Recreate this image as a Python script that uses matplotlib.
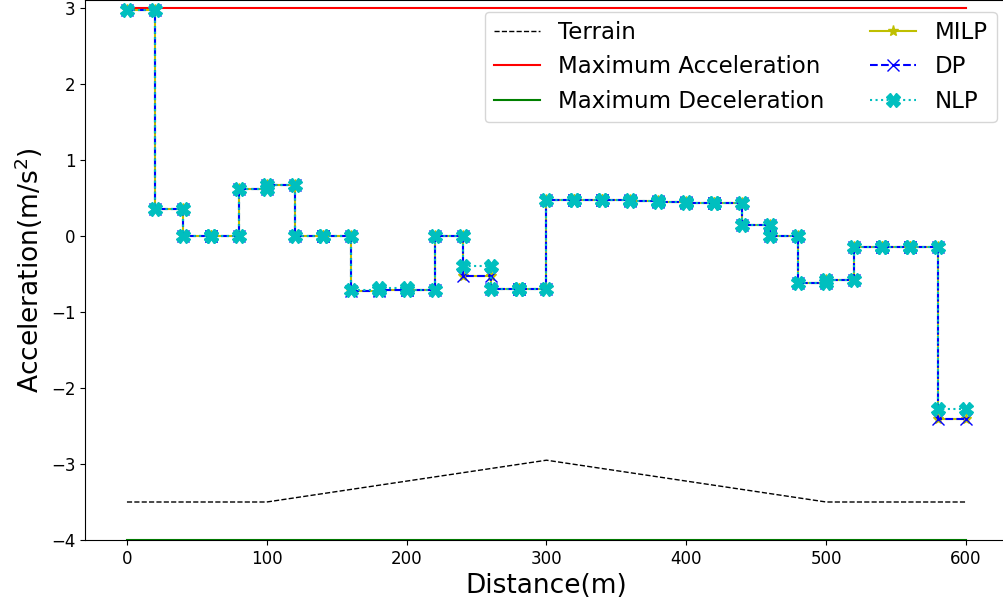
import matplotlib
matplotlib.use("Agg")
import matplotlib.pyplot as plt
import numpy as np

# segment boundaries (m) and piecewise-constant acceleration per 20 m segment
distance = np.arange(0, 620, 20)
milp_acc = [2.97, 0.36, 0.0, 0.0, 0.62, 0.67, 0.0, 0.0, -0.72, -0.71,
            -0.71, 0.0, -0.53, -0.70, -0.70, 0.48, 0.48, 0.47, 0.46, 0.45,
            0.43, 0.44, 0.14, 0.0, -0.62, -0.58, -0.14, -0.14, -0.14, -2.41]
dp_acc = [2.97, 0.36, 0.0, 0.0, 0.62, 0.67, 0.0, 0.0, -0.72, -0.71,
          -0.71, 0.0, -0.53, -0.70, -0.70, 0.48, 0.48, 0.47, 0.46, 0.45,
          0.43, 0.44, 0.14, 0.0, -0.62, -0.58, -0.14, -0.14, -0.14, -2.41]
nlp_acc = [2.97, 0.36, 0.0, 0.0, 0.62, 0.67, 0.0, 0.0, -0.71, -0.69,
           -0.71, 0.0, -0.40, -0.70, -0.70, 0.48, 0.48, 0.47, 0.46, 0.45,
           0.43, 0.44, 0.14, 0.0, -0.62, -0.58, -0.14, -0.14, -0.14, -2.27]

terrain_x = [0, 100, 300, 500, 600]
terrain_y = [-3.5, -3.5, -2.95, -3.5, -3.5]

max_acc = 3.0
max_dec = -4.0


def steps(values):
    # each segment drawn from its start to its end point
    xs, ys = [], []
    for i, a in enumerate(values):
        xs += [distance[i], distance[i + 1]]
        ys += [a, a]
    return xs, ys


fig = plt.figure(figsize=(10.04, 6.08), dpi=100)
ax = fig.add_axes([85 / 1004, 68 / 608, 923 / 1004, 539.6 / 608])

ax.plot(terrain_x, terrain_y, "k--", linewidth=1, label="Terrain")
ax.plot([distance[0], distance[-1]], [max_acc, max_acc], "r-",
        label="Maximum Acceleration")
ax.plot([distance[0], distance[-1]], [max_dec, max_dec], "g-",
        label="Maximum Deceleration")

x, y = steps(milp_acc)
ax.plot(x, y, "y-*", markersize=8, label="MILP")
x, y = steps(dp_acc)
ax.plot(x, y, "b--x", markersize=8, label="DP")
x, y = steps(nlp_acc)
ax.plot(x, y, "c:X", markersize=10, label="NLP")

ax.set_xlim(-30, 630)
ax.set_ylim(-4, 3.1)
ax.set_xticks([0, 100, 200, 300, 400, 500, 600])
ax.set_yticks([-4, -3, -2, -1, 0, 1, 2, 3])
ax.tick_params(labelsize=12)
ax.set_xlabel("Distance(m)", fontsize=19)
ax.set_ylabel("Acceleration(m/s$^2$)", fontsize=19)
ax.legend(loc="upper right", ncol=2, fontsize=16.5, numpoints=1)

fig.savefig("out.png", dpi=100)
